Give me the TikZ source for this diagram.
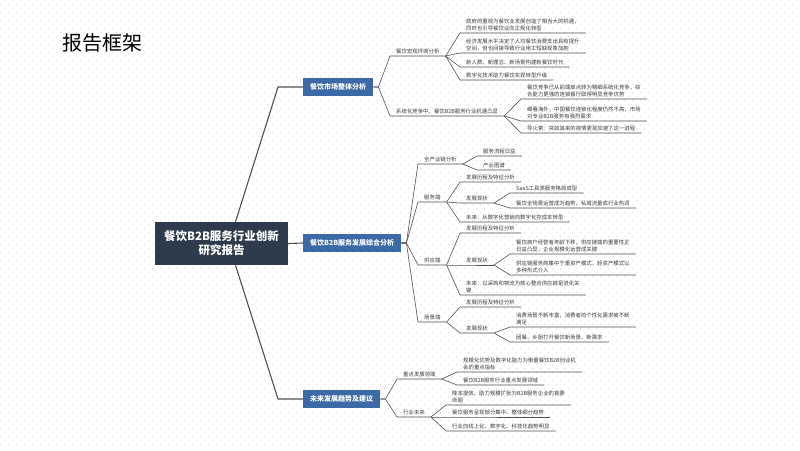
\documentclass[tikz,border=0pt]{standalone}
\usepackage{fontspec}
\setmainfont{Noto Sans CJK SC}
\definecolor{boxblue}{HTML}{3B6AA6}
\definecolor{rootblue}{HTML}{2D3B4C}
\definecolor{linegray}{HTML}{505050}
\definecolor{dotgray}{HTML}{B4B4B4}
\definecolor{txtgray}{HTML}{3A3A3A}
\begin{document}
\begin{tikzpicture}[x=1pt,y=-1pt,
                    leaf/.style={anchor=south west, align=left, inner xsep=6pt, inner ysep=1.5pt, text=txtgray, font=\fontsize{5.4}{7.5}\selectfont},
                    mainbox/.style={anchor=west, fill=boxblue, text=white, font=\bfseries\fontsize{7}{9}\selectfont, minimum height=18pt, inner xsep=7pt},
                    rootbox/.style={fill=rootblue, text=white, align=center, font=\bfseries\fontsize{11.5}{14}\selectfont, minimum width=133pt, minimum height=43pt},
                    conn/.style={draw=linegray, line width=1.1pt},
                    sub/.style={draw=linegray, line width=0.6pt}
                    ]

                    \useasboundingbox (0,0) rectangle (800,450);
                    \foreach \k in {0,...,111} {
                        \pgfmathsetmacro\off{4*(1-mod(\k,2))}
                        \fill[dotgray] \foreach \i in {0,...,99} {(\off+8*\i+0.3,4*\k+0.3) rectangle ++(0.9,0.9)};
                    }

                    \node[font=\fontsize{20}{24}\selectfont] (title) at (102,43) {报告框架};
                    \node[rootbox] (root) at (221.5,243.5) {餐饮B2B服务行业创新\\研究报告};

                    \node[mainbox] (mkt) at (303,87) {餐饮市场整体分析};
                    \node[mainbox] (dev) at (303,243) {餐饮B2B服务发展综合分析};
                    \node[mainbox] (fut) at (303,399) {未来发展趋势及建议};

                    \draw[conn] ([xshift=14pt]root.north) -- ([xshift=-25pt]mkt.west) -- (mkt.west);
                    \draw[conn] (root.east) -- (dev.west);
                    \draw[conn] ([xshift=14pt]root.south) -- ([xshift=-25pt]fut.west) -- (fut.west);

                    \node[leaf] (macro) at (390,56) {餐饮宏观环境分析};
                    \node[leaf] (sys) at (390,116) {系统化竞争中，餐饮B2B服务行业机遇凸显};
                    \foreach \c in {macro,sys} \draw[sub] (mkt.east) -- ++(5,0) -- (\c.south west) -- (\c.south east);

                    \node[leaf] (gov) at (460,33) {政府的重视为餐饮业发展创造了相当大的机遇，\\同时也引导餐饮业向正规化转型};
                    \node[leaf] (econ) at (460,53) {经济发展水平决定了人均餐饮消费支出具有提升\\空间，但也间接导致行业用工短缺现象加剧};
                    \node[leaf] (crowd) at (460,67) {新人群、新理念、新场景构建新餐饮时代};
                    \node[leaf] (tech) at (460,80) {数字化技术助力餐饮实现转型升级};
                    \foreach \c in {gov,econ,crowd,tech} \draw[sub] (macro.south east) -- (\c.south west) -- (\c.south east);

                    \node[leaf] (comp) at (521,99) {餐饮竞争已从前端单点转为精细系统化竞争，综\\合能力更强的连锁餐厅取得明显竞争优势};
                    \node[leaf] (abroad) at (521,121) {细看海外，中国餐饮连锁化程度仍然不高，市场\\对专业B2B服务有强烈需求};
                    \node[leaf] (fuse) at (521,133) {导火索：突如其来的疫情更是加速了这一进程};
                    \foreach \c in {comp,abroad,fuse} \draw[sub] (sys.south east) -- (\c.south west) -- (\c.south east);

                    \node[leaf] (chain) at (418,164) {全产业链分析};
                    \node[leaf] (svc) at (418,202) {服务端};
                    \node[leaf] (sup) at (418,265) {供应端};
                    \node[leaf] (scene) at (418,322) {场景端};
                    \foreach \c in {chain,svc,sup,scene} \draw[sub] (dev.east) -- ++(5,0) -- (\c.south west) -- (\c.south east);

                    \node[leaf] (flow) at (477,156) {服务流程日益};
                    \node[leaf] (map) at (477,170) {产业图谱};
                    \foreach \c in {flow,map} \draw[sub] (chain.south east) -- (\c.south west) -- (\c.south east);

                    \node[leaf] (svchist) at (460,182) {发展历程及特征分析};
                    \node[leaf] (svcnow) at (460,203) {发展现状};
                    \node[leaf] (svcfut) at (460,222) {未来：从数字化营销向数字化控成本转型};
                    \foreach \c in {svchist,svcnow,svcfut} \draw[sub] (svc.south east) -- (\c.south west) -- (\c.south east);
                    \node[leaf] (saas) at (510,193) {SaaS工具类服务格局成型};
                    \node[leaf] (ops) at (510,208) {餐饮全场景运营成为趋势，私域流量成行业热词};
                    \foreach \c in {saas,ops} \draw[sub] (svcnow.south east) -- (\c.south west) -- (\c.south east);

                    \node[leaf] (suphist) at (460,233) {发展历程及特征分析};
                    \node[leaf] (supnow) at (460,265) {发展现状};
                    \node[leaf] (supfut) at (460,295) {未来：以采购和物流为核心整合供应链是进化关\\键};
                    \foreach \c in {suphist,supnow,supfut} \draw[sub] (sup.south east) -- (\c.south west) -- (\c.south east);
                    \node[leaf] (owner) at (510,254) {餐饮商户经营者年龄下移，供应链端的重要性正\\日益凸显，企业规模化运营成关键};
                    \node[leaf] (heavy) at (510,275) {供应链服务商集中于重资产模式，轻资产模式以\\多种形式介入};
                    \foreach \c in {owner,heavy} \draw[sub] (supnow.south east) -- (\c.south west) -- (\c.south east);

                    \node[leaf] (scenehist) at (460,307) {发展历程及特征分析};
                    \node[leaf] (scenenow) at (460,333) {发展现状};
                    \foreach \c in {scenehist,scenenow} \draw[sub] (scene.south east) -- (\c.south west) -- (\c.south east);
                    \node[leaf] (consume) at (510,327) {消费场景不断丰富，消费者的个性化需求被不断\\满足};
                    \node[leaf] (group) at (510,342) {团餐、乡厨打开餐饮新场景、新需求};
                    \foreach \c in {consume,group} \draw[sub] (scenenow.south east) -- (\c.south west) -- (\c.south east);

                    \node[leaf] (focus) at (397,379) {重点发展领域};
                    \node[leaf] (trend) at (397,417) {行业未来};
                    \foreach \c in {focus,trend} \draw[sub] (fut.east) -- ++(5,0) -- (\c.south west) -- (\c.south east);

                    \node[leaf] (scale) at (457,372) {规模化优势及数字化能力为衡量餐饮B2B创业机\\会的重点指标};
                    \node[leaf] (field) at (457,385) {餐饮B2B服务行业重点发展领域};
                    \foreach \c in {scale,field} \draw[sub] (focus.south east) -- (\c.south west) -- (\c.south east);

                    \node[leaf] (cost) at (446,405) {降本提效、助力规模扩张为B2B服务企业的首要\\命题};
                    \node[leaf] (split) at (446,417) {餐饮服务呈现部分集中、整体细分趋势};
                    \node[leaf] (online) at (446,431) {行业向线上化、数字化、科技化趋势明显};
                    \foreach \c in {cost,split,online} \draw[sub] (trend.south east) -- (\c.south west) -- (\c.south east);
                \end{tikzpicture}
\end{document}
